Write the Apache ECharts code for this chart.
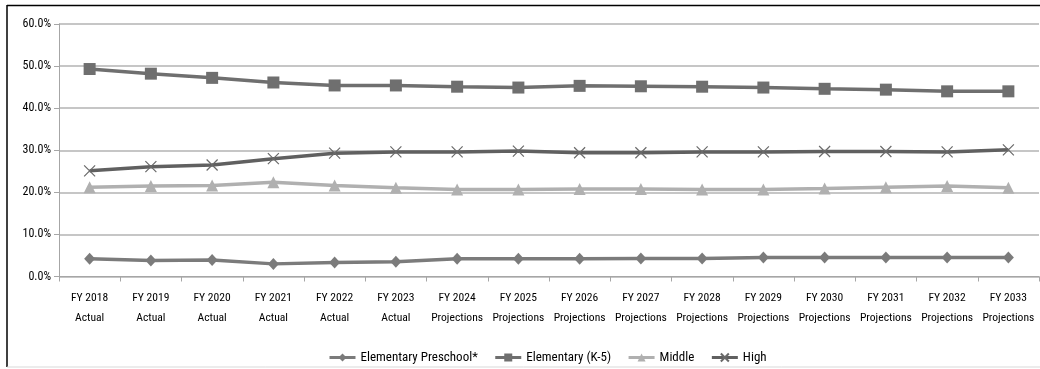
<!DOCTYPE html>
<html><head><meta charset="utf-8">
<script src="https://cdn.jsdelivr.net/npm/echarts@6/dist/echarts.min.js"></script>
<style>html,body{margin:0;padding:0;background:#fff}#c{width:1040px;height:369px}</style>
</head><body><div id="c"></div>
<script>
const categories = ['FY 2018\nActual','FY 2019\nActual','FY 2020\nActual','FY 2021\nActual','FY 2022\nActual','FY 2023\nActual','FY 2024\nProjections','FY 2025\nProjections','FY 2026\nProjections','FY 2027\nProjections','FY 2028\nProjections','FY 2029\nProjections','FY 2030\nProjections','FY 2031\nProjections','FY 2032\nProjections','FY 2033\nProjections'];
const preschool = [4.2,3.8,3.9,3.0,3.3,3.5,4.2,4.2,4.2,4.3,4.3,4.5,4.5,4.5,4.5,4.5];
const elementary = [49.3,48.2,47.2,46.1,45.4,45.4,45.1,44.9,45.3,45.2,45.1,44.9,44.6,44.4,44.0,44.0];
const middle = [21.2,21.5,21.6,22.4,21.6,21.1,20.7,20.7,20.8,20.8,20.7,20.7,20.9,21.2,21.5,21.1];
const high = [25.1,26.1,26.5,28.0,29.3,29.6,29.6,29.8,29.4,29.4,29.6,29.6,29.7,29.7,29.6,30.1];
const yTicks = {min:0, max:60, interval:10};

const FONT = '"Roboto Condensed","DejaVu Sans Condensed",sans-serif';
const chart = echarts.init(document.getElementById('c'), null, {renderer:'canvas'});
const xPath = 'path://M0,0L10,10M10,0L0,10';
chart.setOption({
  animation:false,
  textStyle:{fontFamily:FONT},
  grid:{left:59,right:1,top:24,bottom:92.5,containLabel:false},
  graphic:[
    {type:'line',shape:{x1:7,y1:5.5,x2:1040,y2:5.5},style:{stroke:'#000',lineWidth:1.5}},
    {type:'line',shape:{x1:7,y1:5,x2:7,y2:367},style:{stroke:'#000',lineWidth:1.5}},
    {type:'line',shape:{x1:7,y1:367,x2:1040,y2:367},style:{stroke:'#d9d9d9',lineWidth:1}}
  ],
  legend:{
    top:346, left:323, itemWidth:26, itemHeight:10, itemGap:16,
    lineStyle:{width:3},
    textStyle:{fontFamily:FONT,fontSize:13,color:'#000'},
    data:['Elementary Preschool*','Elementary (K-5)','Middle','High']
  },
  xAxis:{
    type:'category', data:categories, boundaryGap:true,
    axisLine:{lineStyle:{color:'#a6a6a6',width:1}},
    axisTick:{show:true,length:5,lineStyle:{color:'#a6a6a6'}},
    axisLabel:{fontFamily:FONT,fontSize:11.6,color:'#000',margin:12,lineHeight:20,interval:0}
  },
  yAxis:{
    type:'value', min:yTicks.min, max:yTicks.max, interval:yTicks.interval,
    axisLine:{show:true,lineStyle:{color:'#a6a6a6'}},
    axisTick:{show:true,length:5,lineStyle:{color:'#a6a6a6'}},
    splitLine:{lineStyle:{color:'#b3b3b3',width:1.5}},
    axisLabel:{fontFamily:FONT,fontSize:12,color:'#000',margin:8,formatter:v=>v.toFixed(1)+'%'}
  },
  series:[
    {name:'Elementary Preschool*',type:'line',data:preschool,symbol:'diamond',symbolSize:[11,12],
     lineStyle:{color:'#7b7b7b',width:3.5},itemStyle:{color:'#7b7b7b'}},
    {name:'Elementary (K-5)',type:'line',data:elementary,symbol:'rect',symbolSize:12,
     lineStyle:{color:'#6f6f6f',width:3.5},itemStyle:{color:'#6f6f6f'}},
    {name:'Middle',type:'line',data:middle,symbol:'triangle',symbolSize:[12,12],
     lineStyle:{color:'#b0b0b0',width:3.5},itemStyle:{color:'#b0b0b0'}},
    {name:'High',type:'line',data:high,symbol:xPath,symbolSize:11,
     lineStyle:{color:'#606060',width:3.5},itemStyle:{color:'none',borderColor:'#6a6a6a',borderWidth:1.2}}
  ]
});
</script></body></html>
